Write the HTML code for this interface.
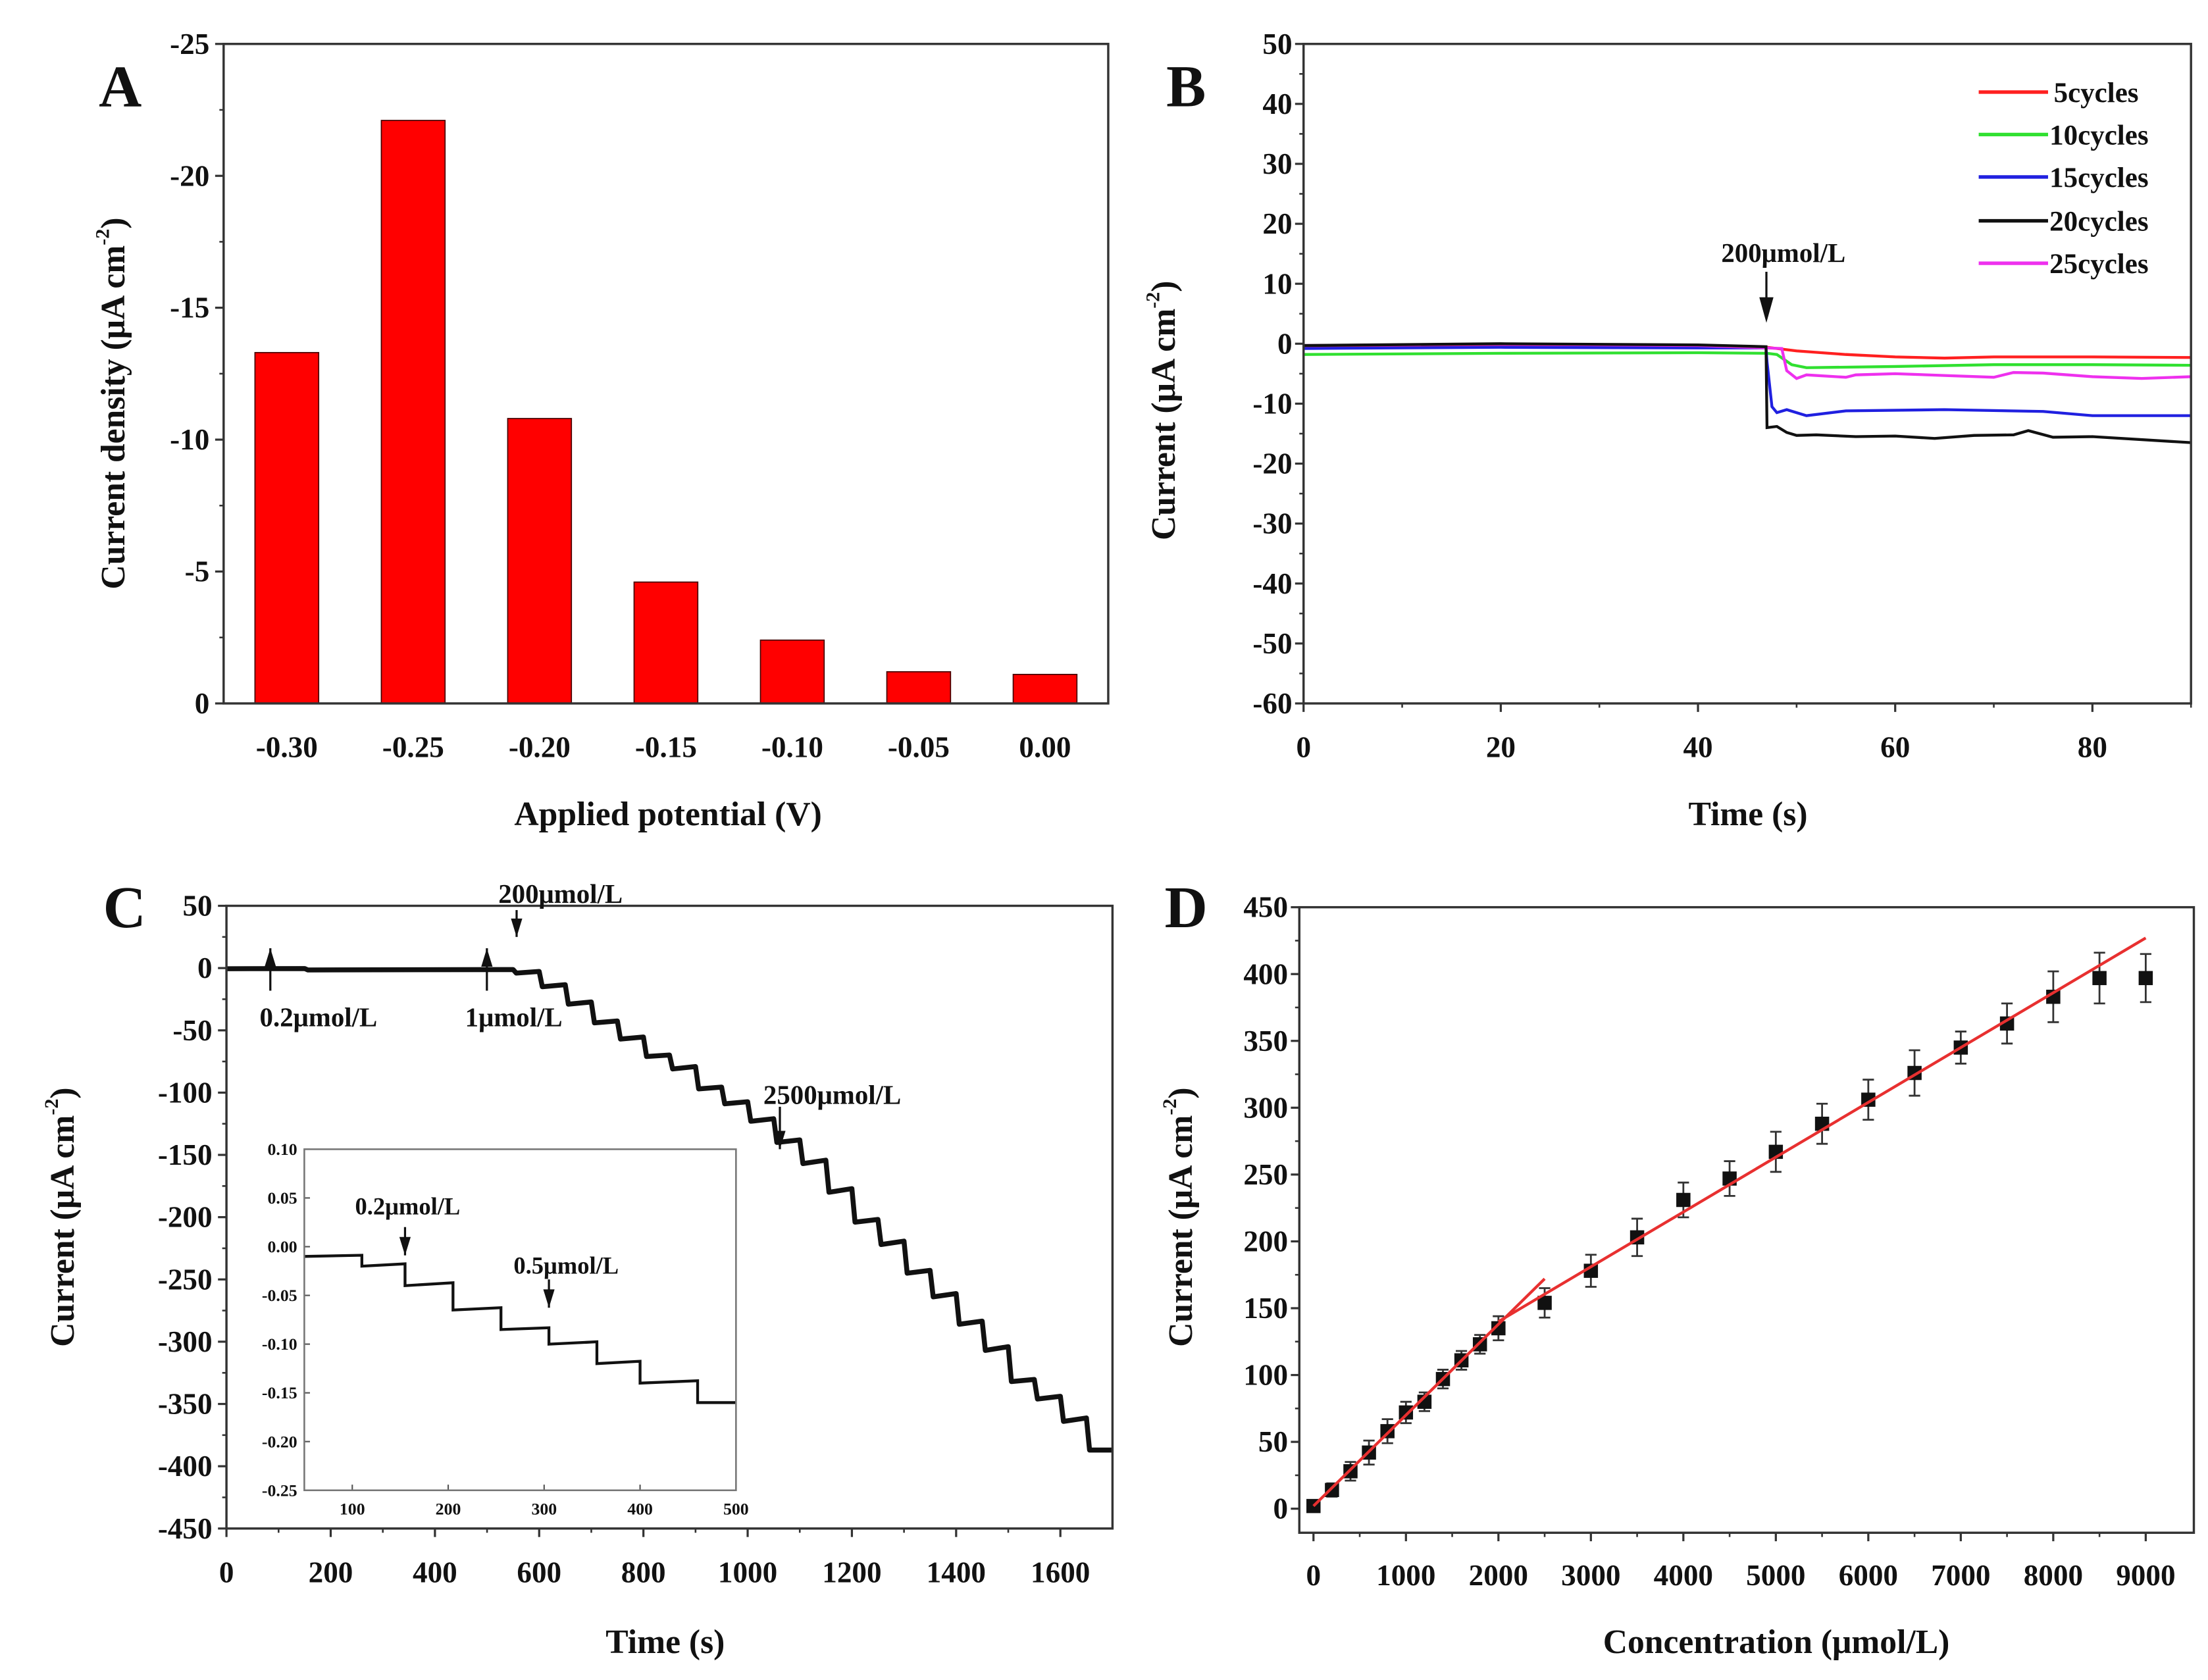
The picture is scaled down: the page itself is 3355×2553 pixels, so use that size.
<!DOCTYPE html>
<html><head><meta charset="utf-8"><style>
html,body{margin:0;padding:0;background:#fff;}
svg{display:block;}
text{font-family:"Liberation Serif",serif;font-weight:bold;fill:#111;}
</style></head><body>
<svg id="fig" xmlns="http://www.w3.org/2000/svg" width="3355" height="2553" viewBox="0 0 1560 1187"></svg>
<script>
// ---------- DATA ----------
const aCategories = ["-0.30","-0.25","-0.20","-0.15","-0.10","-0.05","0.00"];
const aValues = [13.3, 22.1, 10.8, 4.6, 2.4, 1.2, 1.1];
const aYTicks = [0,-5,-10,-15,-20,-25];

const bNames = ["5cycles","10cycles","15cycles","20cycles","25cycles"];
const bColors = ["#ff2020","#30e030","#2020e0","#111111","#ee30ee"];
const bT5 = [0,20,40,47,50,55,60,65,70,80,90];
const bV5 = [-0.5,-0.2,-0.4,-0.6,-1.2,-1.8,-2.2,-2.4,-2.2,-2.2,-2.3];
const bT10 = [0,20,40,47,48,49.5,51,60,70,80,90];
const bV10 = [-1.8,-1.6,-1.5,-1.6,-1.8,-3.5,-4.0,-3.8,-3.5,-3.5,-3.6];
const bT15 = [0,20,40,46.9,47,47.5,48,49,51,55,65,75,80,90];
const bV15 = [-0.8,-0.6,-0.7,-0.7,-3,-10.5,-11.5,-11,-12,-11.2,-11,-11.3,-12,-12];
const bT20 = [0,20,40,46.9,47,48,49,50,52,56,60,64,68,72,73.5,76,80,90];
const bV20 = [-0.3,0,-0.2,-0.5,-14,-13.8,-14.8,-15.3,-15.2,-15.5,-15.4,-15.8,-15.3,-15.2,-14.5,-15.6,-15.5,-16.5];
const bT25 = [0,20,40,48.5,49,50,51,55,56,60,65,70,72,75,80,85,90];
const bV25 = [-0.3,-0.1,-0.3,-0.8,-4.5,-5.8,-5.2,-5.6,-5.2,-5.0,-5.3,-5.6,-4.8,-4.9,-5.5,-5.8,-5.5];

const cXTicks = [0,200,400,600,800,1000,1200,1400,1600];
const cYTicks = [50,0,-50,-100,-150,-200,-250,-300,-350,-400,-450];
const cStepTimes = [0,150,550,600,650,700,750,800,850,900,950,1000,1050,1100,1150,1200,1250,1300,1350,1400,1450,1500,1550,1600,1650];
const cStepLevels = [-0.5,-1.5,-4,-15,-29,-44,-57,-71,-81,-97,-109,-123,-140,-157,-180,-204,-222,-245,-264,-286,-307,-332,-346,-364,-387];
const cEndTime = 1700;
const insetXTicks = [100,200,300,400,500];
const insetYTicks = [0.10,0.05,0.00,-0.05,-0.10,-0.15,-0.20,-0.25];
const insetStepTimes = [50,110,155,205,255,305,355,400,460];
const insetStepLevels = [-0.01,-0.02,-0.04,-0.065,-0.085,-0.10,-0.12,-0.14,-0.16];
const insetEnd = 500;

const dX = [0,200,400,600,800,1000,1200,1400,1600,1800,2000,2500,3000,3500,4000,4500,5000,5500,6000,6500,7000,7500,8000,8500,9000];
const dY = [2,14,28,42,58,72,80,97,111,123,135,154,178,203,231,247,267,288,306,326,345,363,383,397,397];
const dErr = [4,5,7,9,9,8,7,7,7,7,9,11,12,14,13,13,15,15,15,17,12,15,19,19,18];
const dXTicks = [0,1000,2000,3000,4000,5000,6000,7000,8000,9000];
const dYTicks = [0,50,100,150,200,250,300,350,400,450];
const dFit1 = [0,2500];
const dFit1Coef = [2,0.068];
const dFit2 = [2000,9000];
const dFit2Coef = [58,0.041];

// ---------- HELPERS ----------
const svg = document.getElementById('fig');
const NS = "http://www.w3.org/2000/svg";
function mk(tag, attrs, parent){const e=document.createElementNS(NS,tag);for(const k in attrs)e.setAttribute(k,attrs[k]);(parent||svg).appendChild(e);return e;}
function txt(s,x,y,size,anchor,parent,rot){const t=mk('text',{x:x,y:y,'font-size':size,'text-anchor':anchor||'middle'},parent);if(rot)t.setAttribute('transform','rotate(-90 '+x+' '+y+')');t.textContent=s;return t;}
function unitTitle(main,x,y,parent){const t=mk('text',{x:x,y:y,'font-size':24,'text-anchor':'middle',transform:'rotate(-90 '+x+' '+y+')'},parent);
t.appendChild(document.createTextNode(main+' (μA cm'));
const s=mk('tspan',{dy:-11,'font-size':14},t);s.textContent='-2';
const p=mk('tspan',{dy:11},t);p.textContent=')';return t;}
function lin(d0,d1,r0,r1){return v=>r0+(v-d0)*(r1-r0)/(d1-d0);}
function frame(g,x0,y0,x1,y1,w){mk('rect',{x:x0,y:y0,width:x1-x0,height:y1-y0,fill:'none',stroke:'#333',"stroke-width":w||1.6},g);}
function stepPath(times,levels,end,sx,sy,dt){let d='';for(let i=0;i<times.length;i++){const t1=i+1<times.length?times[i+1]:end;const y=levels[i];const t0=i?times[i]+dt:times[i];d+=(i?'L':'M')+sx(t0)+','+sy(y)+'L'+sx(t1)+','+sy(y+(i+1<times.length?(levels[i]-levels[i+1])*0.12:0));}return d;}

// ---------- PANEL A ----------
const gA=mk('g',{});
const aL=158,aR=783,aT=31,aB=497;
const aY=lin(0,-25,aB,aT);
const band=(aR-aL)/aCategories.length;
aValues.forEach((v,i)=>{const cx=aL+band*(i+0.5);const r=mk('rect',{x:cx-22.5,y:aY(-v),width:45,height:aB-aY(-v),fill:'#ff0000',stroke:'#400','stroke-width':0.8},gA);


txt(aCategories[i],cx,535,21,'middle',gA);});
aYTicks.forEach(v=>{mk('line',{x1:aL-6,x2:aL,y1:aY(v),y2:aY(v),stroke:'#333','stroke-width':1.5},gA);txt(String(v),aL-10,aY(v)+7,21,'end',gA);});
for(let v=-2.5;v>-25;v-=5)mk('line',{x1:aL-3,x2:aL,y1:aY(v),y2:aY(v),stroke:'#333','stroke-width':1.2},gA);
frame(gA,aL,aT,aR,aB);
txt('A',85,75,42,'middle',gA);
txt('Applied potential (V)',472,583,24,'middle',gA);
unitTitle('Current density',88,285,gA);

// ---------- PANEL B ----------
const gB=mk('g',{});
const bL=921,bR=1548,bT=31,bB=497;
const bX=lin(0,90,bL,bR),bY=lin(50,-60,bT,bB);
for(let v=50;v>=-60;v-=10){mk('line',{x1:bL-6,x2:bL,y1:bY(v),y2:bY(v),stroke:'#333','stroke-width':1.5},gB);txt(String(v),bL-8,bY(v)+7,21,'end',gB);}
for(let v=45;v>-60;v-=10)mk('line',{x1:bL-3,x2:bL,y1:bY(v),y2:bY(v),stroke:'#333','stroke-width':1.2},gB);
for(let v=0;v<=80;v+=20){mk('line',{x1:bX(v),x2:bX(v),y1:bB,y2:bB+6,stroke:'#333','stroke-width':1.5},gB);txt(String(v),bX(v),535,21,'middle',gB);}
for(let v=10;v<=90;v+=20)mk('line',{x1:bX(v),x2:bX(v),y1:bB,y2:bB+3,stroke:'#333','stroke-width':1.2},gB);
const bTs=[bT5,bT10,bT15,bT20,bT25],bVs=[bV5,bV10,bV15,bV20,bV25];
const order=[1,0,2,4,3];
order.forEach(k=>{const d=bTs[k].map((t,i)=>(i?'L':'M')+bX(t)+','+bY(bVs[k][i])).join('');const p=mk('path',{d:d,fill:'none',stroke:bColors[k],'stroke-width':2},gB);

});
frame(gB,bL,bT,bR,bB);
const legY=[65,95,125,156,186];
bNames.forEach((n,i)=>{const lg=mk('g',{},gB);


mk('line',{x1:1398,x2:1447,y1:legY[i],y2:legY[i],stroke:bColors[i],'stroke-width':2.5},lg);txt(n,i?1448:1451,legY[i]+7,20,'start',lg);});
mk('line',{x1:1248,x2:1248,y1:192,y2:225,stroke:'#111','stroke-width':1.5},gB);
mk('path',{d:'M1243,210 L1248,228 L1253,210 Z',fill:'#111'},gB);
txt('200μmol/L',1260,185,19,'middle',gB);
txt('B',838,75,42,'middle',gB);
txt('Time (s)',1235,583,24,'middle',gB);
unitTitle('Current',830,290,gB);

// ---------- PANEL C ----------
const gC=mk('g',{});
const cL=160,cR=786,cT=640,cB=1080;
const cX=lin(0,1700,cL,cR),cY=lin(50,-450,cT,cB);
cYTicks.forEach(v=>{mk('line',{x1:cL-6,x2:cL,y1:cY(v),y2:cY(v),stroke:'#333','stroke-width':1.5},gC);txt(String(v),cL-10,cY(v)+7,21,'end',gC);});
for(let v=25;v>-450;v-=50)mk('line',{x1:cL-3,x2:cL,y1:cY(v),y2:cY(v),stroke:'#333','stroke-width':1.2},gC);
cXTicks.forEach(v=>{mk('line',{x1:cX(v),x2:cX(v),y1:cB,y2:cB+6,stroke:'#333','stroke-width':1.5},gC);txt(String(v),cX(v),1118,21,'middle',gC);});
for(let v=100;v<1700;v+=200)mk('line',{x1:cX(v),x2:cX(v),y1:cB,y2:cB+3,stroke:'#333','stroke-width':1.2},gC);
const cp=mk('path',{d:stepPath(cStepTimes,cStepLevels,cEndTime,cX,cY,6),fill:'none',stroke:'#111','stroke-width':3.5,'stroke-linejoin':'round'},gC);


frame(gC,cL,cT,cR,cB);
function arrowUp(x,y1,y2,g){mk('line',{x1:x,x2:x,y1:y1,y2:y2,stroke:'#111','stroke-width':1.5},g);mk('path',{d:`M${x-4},${y2+13} L${x},${y2} L${x+4},${y2+13} Z`,fill:'#111'},g);}
function arrowDown(x,y1,y2,g){mk('line',{x1:x,x2:x,y1:y1,y2:y2,stroke:'#111','stroke-width':1.5},g);mk('path',{d:`M${x-4},${y2-13} L${x},${y2} L${x+4},${y2-13} Z`,fill:'#111'},g);}
arrowUp(191,700,670,gC);arrowUp(344,700,670,gC);arrowDown(365,643,662,gC);arrowDown(551,782,812,gC);
txt('0.2μmol/L',225,725,19,'middle',gC);txt('1μmol/L',363,725,19,'middle',gC);
txt('200μmol/L',396,638,19,'middle',gC);txt('2500μmol/L',588,780,19,'middle',gC);
txt('C',88,655,42,'middle',gC);
txt('Time (s)',470,1168,24,'middle',gC);
unitTitle('Current',52,860,gC);
// inset
const gI=mk('g',{},gC);
const iL=215,iR=520,iT=812,iB=1053;
mk('rect',{x:iL,y:iT,width:iR-iL,height:iB-iT,fill:'#fff'},gI);
const iX=lin(50,500,iL,iR),iY=lin(0.10,-0.25,iT,iB);
insetYTicks.forEach(v=>{mk('line',{x1:iL,x2:iL+4,y1:iY(v),y2:iY(v),stroke:'#555','stroke-width':1},gI);txt(v.toFixed(2),iL-5,iY(v)+4,12,'end',gI);});
insetXTicks.forEach(v=>{mk('line',{x1:iX(v),x2:iX(v),y1:iB,y2:iB-4,stroke:'#555','stroke-width':1},gI);txt(String(v),iX(v),iB+17,12,'middle',gI);});
const ip=mk('path',{d:stepPath(insetStepTimes,insetStepLevels,insetEnd,iX,iY,0),fill:'none',stroke:'#111','stroke-width':2},gI);


mk('rect',{x:iL,y:iT,width:iR-iL,height:iB-iT,fill:'none',stroke:'#777','stroke-width':1.2},gI);
arrowDown(iX(155),iT+55,iT+75,gI);arrowDown(iX(305),iT+92,iT+112,gI);
txt('0.2μmol/L',288,858,17,'middle',gI);txt('0.5μmol/L',400,900,17,'middle',gI);

// ---------- PANEL D ----------
const gD=mk('g',{});
const dL=918,dR=1550,dT=641,dB=1083;
const dXs=lin(0,9000,928,1516),dYs=lin(0,450,1066,641);
dYTicks.forEach(v=>{mk('line',{x1:dL-6,x2:dL,y1:dYs(v),y2:dYs(v),stroke:'#333','stroke-width':1.5},gD);txt(String(v),dL-8,dYs(v)+7,21,'end',gD);});
for(let v=25;v<450;v+=50)mk('line',{x1:dL-3,x2:dL,y1:dYs(v),y2:dYs(v),stroke:'#333','stroke-width':1.2},gD);
dXTicks.forEach(v=>{mk('line',{x1:dXs(v),x2:dXs(v),y1:dB,y2:dB+6,stroke:'#333','stroke-width':1.5},gD);txt(String(v),dXs(v),1120,21,'middle',gD);});
for(let v=500;v<9500;v+=1000)mk('line',{x1:dXs(v),x2:dXs(v),y1:dB,y2:dB+3,stroke:'#333','stroke-width':1.2},gD);
dX.forEach((x,i)=>{const g=mk('g',{},gD);


const cx=dXs(x),y0=dYs(dY[i]-dErr[i]),y1=dYs(dY[i]+dErr[i]);
mk('line',{x1:cx,x2:cx,y1:y0,y2:y1,stroke:'#333','stroke-width':1.3},g);
mk('line',{x1:cx-4,x2:cx+4,y1:y0,y2:y0,stroke:'#333','stroke-width':1.3},g);
mk('line',{x1:cx-4,x2:cx+4,y1:y1,y2:y1,stroke:'#333','stroke-width':1.3},g);
mk('rect',{x:cx-5,y:dYs(dY[i])-5,width:10,height:10,fill:'#111'},g);});
const f1=mk('line',{x1:dXs(dFit1[0]),y1:dYs(dFit1Coef[0]+dFit1Coef[1]*dFit1[0]),x2:dXs(dFit1[1]),y2:dYs(dFit1Coef[0]+dFit1Coef[1]*dFit1[1]),stroke:'#e83030','stroke-width':2},gD);


const f2=mk('line',{x1:dXs(dFit2[0]),y1:dYs(dFit2Coef[0]+dFit2Coef[1]*dFit2[0]),x2:dXs(dFit2[1]),y2:dYs(dFit2Coef[0]+dFit2Coef[1]*dFit2[1]),stroke:'#e83030','stroke-width':2},gD);


frame(gD,dL,dT,dR,dB);
txt('D',838,655,42,'middle',gD);
txt('Concentration (μmol/L)',1255,1168,24,'middle',gD);
unitTitle('Current',842,860,gD);
</script>
</body></html>
